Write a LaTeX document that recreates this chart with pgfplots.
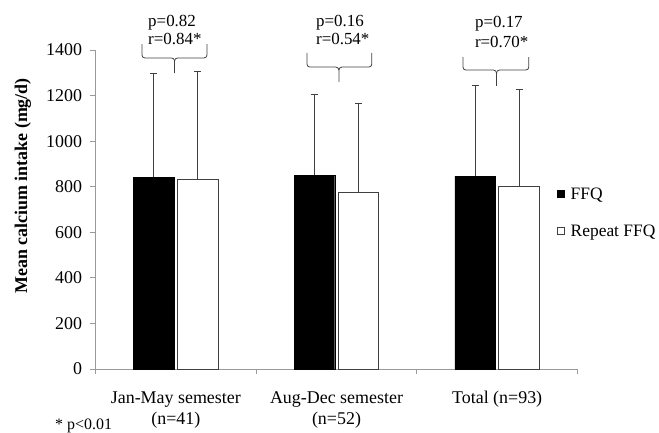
\documentclass[border=0pt]{standalone}
\usepackage{pgfplots}
\pgfplotsset{compat=1.18}
\usepackage{fontspec}
\setmainfont{Liberation Serif}
\definecolor{axgray}{HTML}{9A9A9A}
\definecolor{edge}{HTML}{404040}
\newcommand{\mybrace}[6]{%
  % #1 x1, #2 x2, #3 xm, #4 top, #5 mid, #6 tip
  \draw[line width=0.8pt, edge] (axis cs:#1,#4) -- ([yshift=3bp]axis cs:#1,#5) to[out=-90,in=180] ([xshift=3bp]axis cs:#1,#5) -- ([xshift=-3bp]axis cs:#3,#5) to[out=0,in=90] ([yshift=-3bp]axis cs:#3,#5) -- (axis cs:#3,#6);
  \draw[line width=0.8pt, edge] (axis cs:#2,#4) -- ([yshift=3bp]axis cs:#2,#5) to[out=-90,in=0] ([xshift=-3bp]axis cs:#2,#5) -- ([xshift=3bp]axis cs:#3,#5) to[out=180,in=90] ([yshift=-3bp]axis cs:#3,#5);
}
\pgfplotstableread{
x y err
-0.137 842 457
0.863 850 357
1.863 847 399
}\ffq
\pgfplotstableread{
x y err
0.136 832 476
1.136 774 393
2.136 803 426
}\rep
\begin{document}
\begin{tikzpicture}
\path[use as bounding box] (0,0) rectangle (659bp,433bp);
\begin{axis}[
  at={(95.5bp,64bp)}, anchor=south west,
  scale only axis, width=482bp, height=319bp,
  xmin=-0.5, xmax=2.5, ymin=0, ymax=1400,
  clip=false,
  axis lines=left,
  axis line style={-, axgray, line width=0.8pt},
  tick style={axgray, line width=0.8pt},
  tick align=outside, major tick length=5bp,
  xtick={-0.5,0.5,1.5,2.5}, xticklabels={},
  ytick={0,200,...,1400},
  /pgf/number format/assume math mode=true,
  /pgf/number format/1000 sep={},
  yticklabel style={font=\fontsize{18}{21}\selectfont, xshift=-5bp},
  legend style={at={(0.951,0.49)}, anchor=west, draw=none, fill=none,
    font=\fontsize{17.5}{20}\selectfont, row sep=24bp,
    /tikz/every odd column/.append style={column sep=6bp},
    nodes={inner sep=0pt}},
  legend cell align=left,
]
\addplot[ybar, bar width=0.252, bar shift=0pt, fill=black, draw=black,
  legend image code/.code={\draw[fill=black,draw=black] (0bp,-3.5bp) rectangle (7bp,3.5bp);},
  error bars/.cd, y dir=plus, y explicit,
  error bar style={edge, line width=0.8pt},
  error mark options={rotate=90, edge, line width=0.8pt, mark size=3.5bp}]
  table[x=x, y=y, y error=err] {\ffq};
\addlegendentry{FFQ}
\addplot[ybar, bar width=0.252, bar shift=0pt, fill=white, draw=edge, line width=0.8pt,
  legend image code/.code={\draw[fill=white,draw=edge,line width=0.6pt] (0bp,-3.5bp) rectangle (7bp,3.5bp);},
  error bars/.cd, y dir=plus, y explicit,
  error bar style={edge, line width=0.8pt},
  error mark options={rotate=90, edge, line width=0.8pt, mark size=3.5bp}]
  table[x=x, y=y, y error=err] {\rep};
\addlegendentry{Repeat FFQ}
\mybrace{-0.211}{0.194}{-0.008}{1426}{1365}{1299}
\mybrace{0.816}{1.22}{1.015}{1387}{1325}{1260}
\mybrace{1.787}{2.197}{1.996}{1369}{1312}{1242}
\begin{scope}[every node/.style={font=\fontsize{17}{20}\selectfont, inner sep=0pt, anchor=base west}]
\node at (axis cs:-0.173,1501) {p=0.82};
\node at (axis cs:-0.173,1422) {r=0.84*};
\node at (axis cs:0.872,1505) {p=0.16};
\node at (axis cs:0.872,1426) {r=0.54*};
\node at (axis cs:1.861,1497) {p=0.17};
\node at (axis cs:1.861,1409) {r=0.70*};
\end{scope}
\begin{scope}[every node/.style={font=\fontsize{18}{21}\selectfont, inner sep=0pt, anchor=base}]
\node[yshift=-34bp] at (axis cs:0,0) {Jan-May semester};
\node[yshift=-55bp] at (axis cs:0,0) {(n=41)};
\node[yshift=-34bp] at (axis cs:1,0) {Aug-Dec semester};
\node[yshift=-55bp] at (axis cs:1,0) {(n=52)};
\node[yshift=-34bp] at (axis cs:2,0) {Total (n=93)};
\end{scope}
\end{axis}
\node[rotate=90, anchor=base, inner sep=0pt, font=\fontsize{18}{21}\selectfont\bfseries] at (27bp,247bp) {Mean calcium intake (mg/d)};
\node[anchor=base west, inner sep=0pt, font=\fontsize{16}{19}\selectfont] at (55bp,4bp) {* p<0.01};
\end{tikzpicture}
\end{document}
